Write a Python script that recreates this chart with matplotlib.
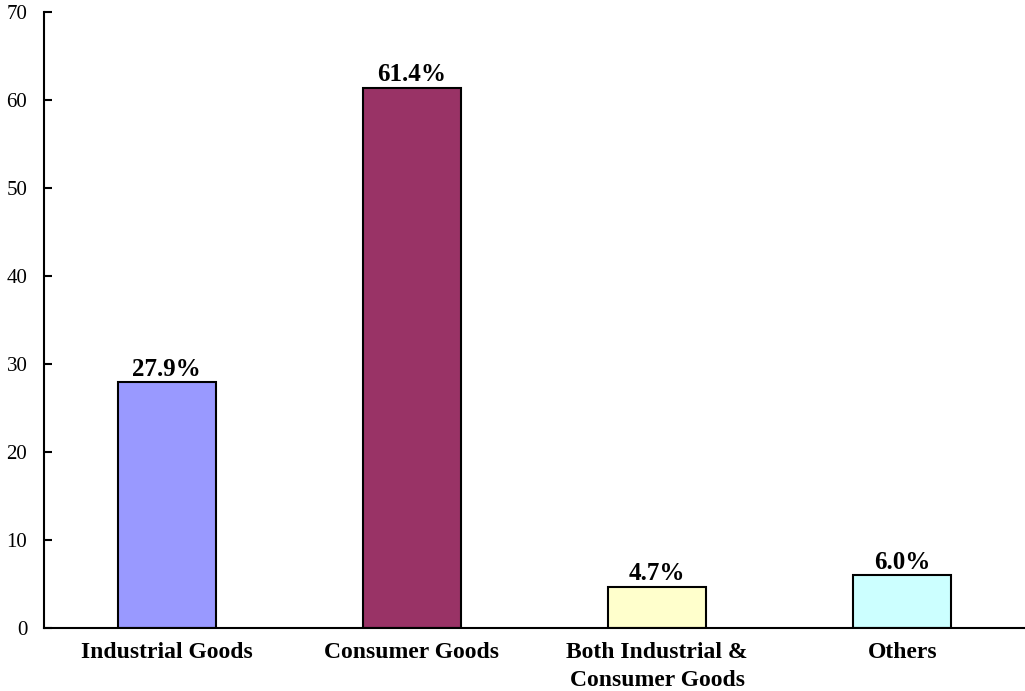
import matplotlib.pyplot as plt
import numpy as np

# Share of products by type (percent)
categories = ['Industrial Goods', 'Consumer Goods', 'Both Industrial &\nConsumer Goods', 'Others']
shares = [27.9, 61.4, 4.7, 6.0]
bar_colors = ['#9999FF', '#993366', '#FFFFCC', '#CCFFFF']
y_ticks = [0, 10, 20, 30, 40, 50, 60, 70]

plt.rcParams['font.family'] = ['Liberation Serif', 'DejaVu Serif']

fig = plt.figure(figsize=(10.25, 6.91), dpi=100)
ax = fig.add_axes([44/1025, 63/691, 1 - 44/1025, (628 - 12)/691])

x = np.arange(len(categories))
bars = ax.bar(x, shares, width=0.4, color=bar_colors, edgecolor='black', linewidth=1.5, zorder=2)

for rect, val in zip(bars, shares):
    ax.annotate(f'{val:.1f}%', (rect.get_x() + rect.get_width()/2, rect.get_height()),
                xytext=(0, 1), textcoords='offset points', ha='center', va='bottom',
                fontsize=18, fontweight='bold')

ax.set_xlim(-0.5, 3.5)
ax.set_ylim(0, 70)
ax.set_yticks(y_ticks)
ax.set_xticks(x)
ax.set_xticklabels(categories, fontsize=17, fontweight='bold', linespacing=1.45)
ax.tick_params(axis='x', length=0, pad=10)
ax.tick_params(axis='y', direction='in', length=6, width=1.5, labelsize=15, pad=12)

for side in ['top', 'right']:
    ax.spines[side].set_visible(False)
ax.spines['left'].set_linewidth(1.5)
ax.spines['bottom'].set_linewidth(1.5)

fig.savefig('out.png', dpi=100)
